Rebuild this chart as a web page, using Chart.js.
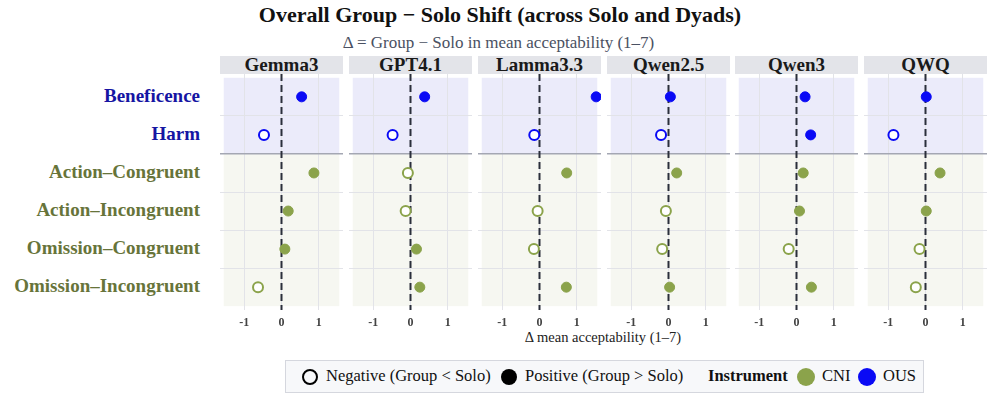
<!DOCTYPE html>
<html>
<head>
<meta charset="utf-8">
<script src="https://cdn.jsdelivr.net/npm/chart.js@4.4.1/dist/chart.umd.min.js"></script>
<style>
  body { margin: 0; background: #fff; font-family: "Liberation Serif", "DejaVu Serif", serif; }
  #wrap { position: relative; width: 997px; height: 399px; overflow: hidden; }
  .abs { position: absolute; }
  #title { left: 0; width: 1000px; top: 2px; text-align: center; font-size: 22px; font-weight: bold; color: #111; }
  #subtitle { left: 0; width: 997px; top: 33px; text-align: center; font-size: 17px; color: #4a5162; }
  .strip { height: 18px; top: 56px; background: #e3e4e9; text-align: center; font-size: 19px; font-weight: bold; line-height: 18px; color: #1a1a1a; }
  .rowlab { right: 797px; font-size: 19px; font-weight: bold; text-align: right; white-space: nowrap; line-height: 22px; }
  #xtitle { left: 220px; width: 766px; top: 329px; text-align: center; font-size: 14.5px; color: #222; }
  #legend { left: 285px; top: 360px; width: 639px; height: 33px; background: #f7f8fa; border: 1px solid #d5d7de; box-sizing: border-box; font-size: 16.5px; color: #111; }
  .lg { position: absolute; top: 5px; white-space: nowrap; line-height: 20px; }
  .dot { position: absolute; border-radius: 50%; box-sizing: border-box; }
</style>
</head>
<body>
<div id="wrap">
  <div id="title" class="abs">Overall Group − Solo Shift (across Solo and Dyads)</div>
  <div id="subtitle" class="abs">Δ = Group − Solo in mean acceptability (1–7)</div>
  <div id="xtitle" class="abs">Δ mean acceptability (1–7)</div>
  <div id="legend" class="abs"></div>
</div>
<script>
// Data
const models = ['Gemma3', 'GPT4.1', 'Lamma3.3', 'Qwen2.5', 'Qwen3', 'QWQ'];
const items = ['Beneficence', 'Harm', 'Action–Congruent', 'Action–Incongruent', 'Omission–Congruent', 'Omission–Incongruent'];
const instrument = ['OUS', 'OUS', 'CNI', 'CNI', 'CNI', 'CNI'];
const xTicks = [-1, 0, 1];

const gemma3 = [0.54, -0.47, 0.87, 0.18, 0.09, -0.63];
const gpt41 = [0.38, -0.48, -0.07, -0.13, 0.16, 0.25];
const lamma33 = [1.52, -0.14, 0.73, -0.05, -0.15, 0.72];
const qwen25 = [0.05, -0.20, 0.22, -0.07, -0.17, 0.03];
const qwen3 = [0.23, 0.38, 0.18, 0.08, -0.21, 0.40];
const qwq = [0.02, -0.86, 0.39, 0.02, -0.16, -0.26];
const deltas = [gemma3, gpt41, lamma33, qwen25, qwen3, qwq];

const instColors = { CNI: '#8ba34b', OUS: '#0a0af5' };
const labelColors = { CNI: '#67743a', OUS: '#1515a3' };

// Layout
const panelLeft = [220, 349, 478, 607, 735, 864];
const panelW = 123;
const areaTop = 74, areaH = 236, axisH = 24;
const xMin = -1.65, xMax = 1.65, yMin = -0.6, yMax = 5.6;

const wrap = document.getElementById('wrap');

// Row labels
const rowY = [96, 134, 172, 210, 248, 286];
items.forEach((name, i) => {
    const d = document.createElement('div');
    d.className = 'abs rowlab';
    d.style.top = (rowY[i] - 11) + 'px';
    d.style.color = labelColors[instrument[i]];
    d.textContent = name;
    wrap.appendChild(d);
});

// Band backgrounds drawn behind the grid
const bandPlugin = {
    id: 'bands',
    beforeDraw(chart) {
        const { ctx, scales: { x, y } } = chart;
        const x0 = x.getPixelForValue(-1.55), x1 = x.getPixelForValue(1.55);
        ctx.save();
        ctx.fillStyle = '#ebebfa';
        ctx.fillRect(x0, y.getPixelForValue(-0.5), x1 - x0, y.getPixelForValue(1.5) - y.getPixelForValue(-0.5));
        ctx.fillStyle = '#f6f7f1';
        ctx.fillRect(x0, y.getPixelForValue(1.5), x1 - x0, y.getPixelForValue(5.5) - y.getPixelForValue(1.5));
        ctx.restore();
    }
};

models.forEach((model, m) => {
    const strip = document.createElement('div');
    strip.className = 'abs strip';
    strip.style.left = panelLeft[m] + 'px';
    strip.style.width = panelW + 'px';
    strip.textContent = model;
    wrap.appendChild(strip);

    const canvas = document.createElement('canvas');
    canvas.width = panelW;
    canvas.height = areaH + axisH;
    canvas.className = 'abs';
    canvas.style.left = panelLeft[m] + 'px';
    canvas.style.top = areaTop + 'px';
    wrap.appendChild(canvas);

    const vals = deltas[m];
    const pts = vals.map((v, i) => ({ x: v, y: i }));
    const col = vals.map((v, i) => instColors[instrument[i]]);
    const fill = vals.map((v, i) => v >= 0 ? instColors[instrument[i]] : '#ffffff');
    const bw = vals.map(v => v >= 0 ? 1 : 2);

    new Chart(canvas, {
        type: 'scatter',
        data: {
            datasets: [{
                data: pts,
                backgroundColor: fill,
                borderColor: col,
                borderWidth: bw,
                pointRadius: 5,
                order: 1,
                clip: false
            }, {
                type: 'line',
                data: [{ x: 0, y: yMin }, { x: 0, y: yMax }],
                borderColor: '#2a2f3b',
                borderWidth: 2,
                borderDash: [7, 4],
                pointRadius: 0,
                order: 2
            }]
        },
        options: {
            responsive: false,
            animation: false,
            layout: { padding: 0, autoPadding: false },
            plugins: { legend: { display: false }, tooltip: { enabled: false } },
            scales: {
                x: {
                    type: 'linear',
                    min: xMin,
                    max: xMax,
                    afterBuildTicks: s => { s.ticks = xTicks.map(v => ({ value: v })); },
                    afterFit: s => { s.height = axisH; },
                    border: { display: false },
                    grid: { color: '#e2e3e8', drawTicks: false },
                    ticks: {
                        padding: 6,
                        color: '#444',
                        font: { family: 'Liberation Serif', size: 12, weight: 'bold' },
                        callback: v => String(v)
                    }
                },
                y: {
                    type: 'linear',
                    min: yMin,
                    max: yMax,
                    reverse: true,
                    afterBuildTicks: s => { s.ticks = [0.5, 1.5, 2.5, 3.5, 4.5].map(v => ({ value: v })); },
                    afterFit: s => { s.width = 0; },
                    border: { display: false },
                    grid: {
                        drawTicks: false,
                        color: c => c.tick && c.tick.value === 1.5 ? '#a4a7b3' : '#e2e3e8',
                        lineWidth: c => c.tick && c.tick.value === 1.5 ? 1.5 : 1
                    },
                    ticks: { display: false }
                }
            }
        },
        plugins: [bandPlugin]
    });
});

// Legend
const legend = document.getElementById('legend');
function addDot(center, size, color, filled, border) {
    const d = document.createElement('div');
    d.className = 'dot';
    d.style.left = (center - size / 2) + 'px';
    d.style.top = (15.5 - size / 2) + 'px';
    d.style.width = size + 'px';
    d.style.height = size + 'px';
    d.style.border = border + 'px solid ' + color;
    d.style.background = filled ? color : 'transparent';
    legend.appendChild(d);
}
function addText(left, text, bold) {
    const t = document.createElement('div');
    t.className = 'lg';
    t.style.left = left + 'px';
    t.style.fontWeight = bold ? 'bold' : 'normal';
    t.textContent = text;
    legend.appendChild(t);
}
addDot(24, 16, '#000', false, 2.5);
addText(40, 'Negative (Group < Solo)', false);
addDot(223, 16, '#000', true, 0);
addText(239, 'Positive (Group > Solo)', false);
addText(422, 'Instrument', true);
addDot(520, 18, instColors.CNI, true, 0);
addText(536, 'CNI', false);
addDot(581, 18, instColors.OUS, true, 0);
addText(597, 'OUS', false);
</script>
</body>
</html>
